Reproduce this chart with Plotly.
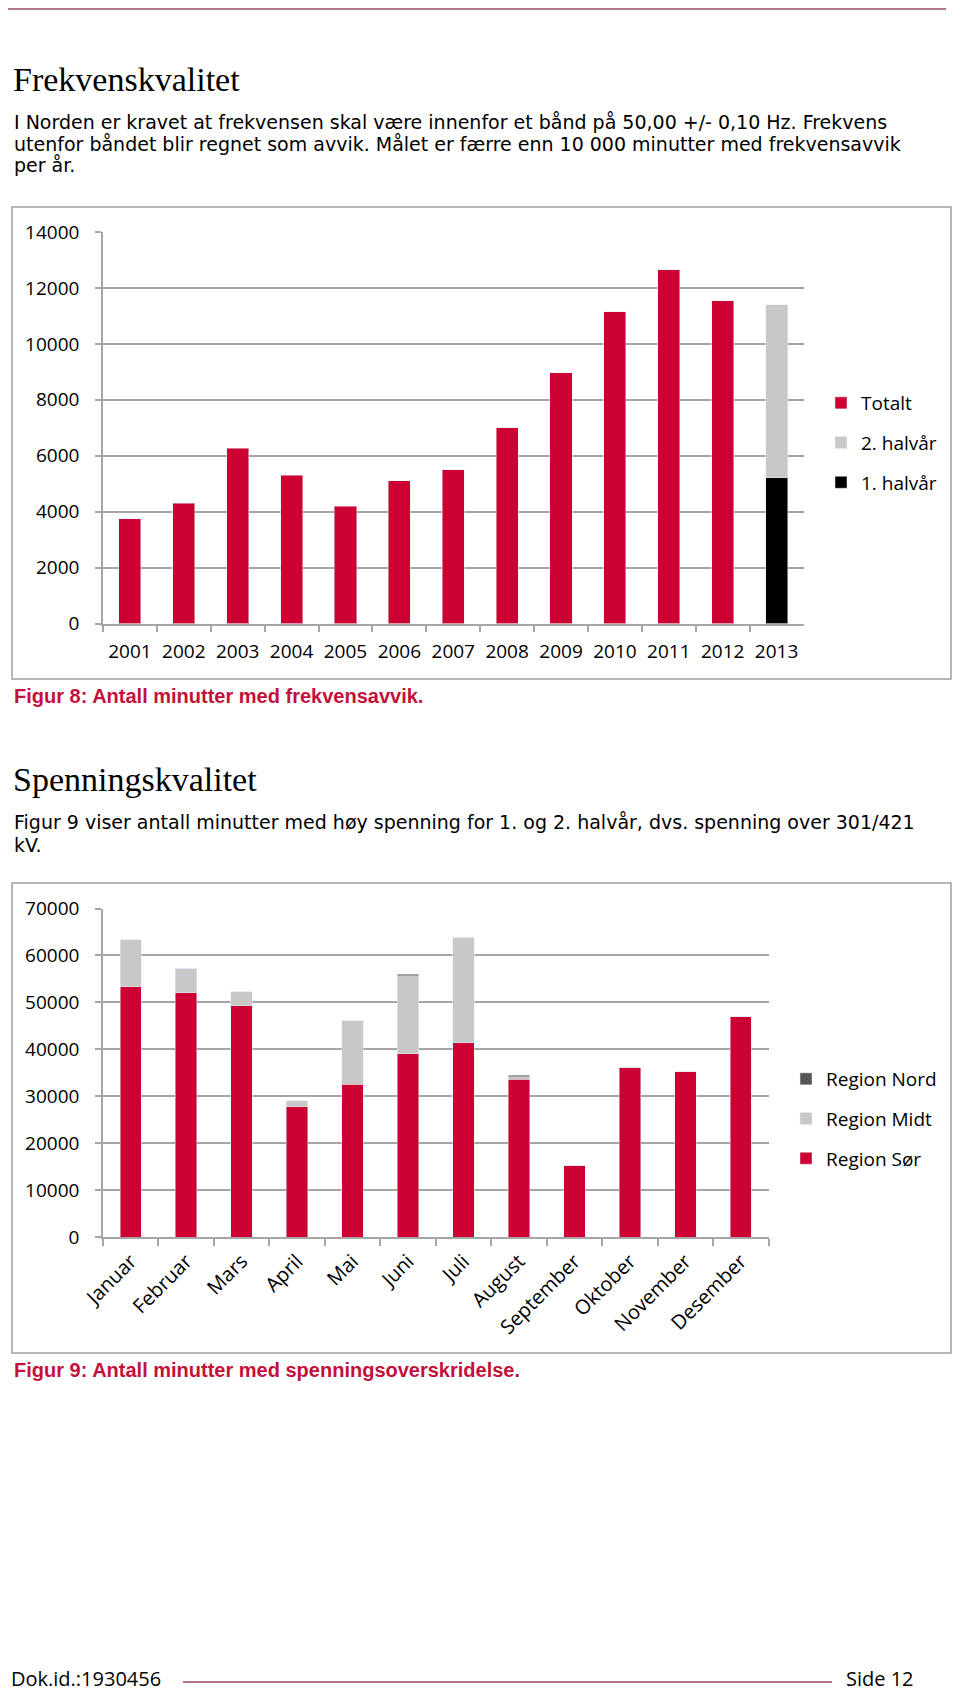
import plotly.graph_objects as go

# ---------------- data ----------------
years = ["2001", "2002", "2003", "2004", "2005", "2006", "2007",
         "2008", "2009", "2010", "2011", "2012", "2013"]
totalt = [3750, 4300, 6270, 5300, 4200, 5100, 5500, 7000, 8960, 11150, 12650, 11550, None]
halvar1 = [None] * 12 + [5220]
halvar2 = [None] * 12 + [6180]

months = ["Januar", "Februar", "Mars", "April", "Mai", "Juni", "Juli",
          "August", "September", "Oktober", "November", "Desember"]
region_sor = [53300, 52000, 49300, 27800, 32500, 39000, 41400, 33600, 15300, 36200, 35200, 46900]
region_midt = [10000, 5300, 3000, 1200, 13600, 16700, 22500, 600, 0, 0, 0, 0]
region_nord = [0, 0, 0, 0, 0, 300, 0, 300, 0, 0, 0, 0]

y1_ticks = [0, 2000, 4000, 6000, 8000, 10000, 12000, 14000]
y2_ticks = [0, 10000, 20000, 30000, 40000, 50000, 60000, 70000]

# ---------------- styles ----------------
# the page has an 8px body margin, so the figure is 944x1686 and placed at (8, 8)
PAGE_W, PAGE_H = 960, 1702
OFF = 8
W, H = PAGE_W - 2 * OFF, PAGE_H - 2 * OFF
RED = "#CC0033"
LIGHT = "#C8C8C8"
DARK = "#555555"
GRID = "#A6A6A6"
CAPRED = "#C4113A"
LINE = "#9B4A62"
CHARTFONT = "Open Sans"


def xp(px):
    """page pixel x -> paper fraction"""
    return (px - OFF) / W


def yp(px):
    """page pixel y (from top) -> paper fraction"""
    return 1 - (px - OFF) / H


fig = go.Figure()

# chart 1 traces (stack order: bottom first)
fig.add_trace(go.Bar(x=years, y=halvar1, name="1. halvår", marker_color="#000000",
                     legendgroup="a", legendrank=3, legend="legend", xaxis="x", yaxis="y"))
fig.add_trace(go.Bar(x=years, y=halvar2, name="2. halvår", marker_color=LIGHT,
                     legendgroup="b", legendrank=2, legend="legend", xaxis="x", yaxis="y"))
fig.add_trace(go.Bar(x=years, y=totalt, name="Totalt", marker_color=RED,
                     legendgroup="c", legendrank=1, legend="legend", xaxis="x", yaxis="y"))

# chart 2 traces
fig.add_trace(go.Bar(x=months, y=region_sor, name="Region Sør", marker_color=RED,
                     legendgroup="d", legendrank=3, legend="legend2", xaxis="x2", yaxis="y2"))
fig.add_trace(go.Bar(x=months, y=region_midt, name="Region Midt", marker_color=LIGHT,
                     legendgroup="e", legendrank=2, legend="legend2", xaxis="x2", yaxis="y2"))
fig.add_trace(go.Bar(x=months, y=region_nord, name="Region Nord", marker_color=DARK,
                     legendgroup="f", legendrank=1, legend="legend2", xaxis="x2", yaxis="y2"))

for tr in fig.data[:3]:
    tr.width = 0.41
for tr in fig.data[3:]:
    tr.width = 0.386

tickfont = dict(family=CHARTFONT, size=19, color="#000000")

common_y = dict(showgrid=True, gridcolor=GRID, gridwidth=1.5, showline=True,
                linecolor=GRID, linewidth=1.5, ticks="outside", ticklen=6,
                tickcolor=GRID, tickwidth=1.5, zeroline=False, tickfont=tickfont,
                tickformat="d", ticklabelstandoff=12, automargin=False, fixedrange=True)
common_x = dict(showgrid=False, showline=True, linecolor=GRID, linewidth=1.5,
                ticks="outside", ticklen=7, tickcolor=GRID, tickwidth=1.5,
                tickson="boundaries", type="category",
                automargin=False, fixedrange=True)

fig.update_layout(
    width=W, height=H,
    margin=dict(l=0, r=0, t=0, b=0, pad=0, autoexpand=False),
    paper_bgcolor="white", plot_bgcolor="white",
    barmode="stack",
    showlegend=True,
    xaxis=dict(domain=[xp(103), xp(803.5)], anchor="y", range=[-0.5, 12.5],
               tickangle=0, ticklabelstandoff=10, tickfont=tickfont, **common_x),
    yaxis=dict(domain=[yp(623.5), yp(232)], anchor="x", range=[0, 14000],
               tickvals=y1_ticks, **common_y),
    xaxis2=dict(domain=[xp(103), xp(768.5)], anchor="y2", range=[-0.5, 11.5],
                tickangle=-45, ticklabelstandoff=3,
                tickfont=dict(family=CHARTFONT, size=20, color="#000000"), **common_x),
    yaxis2=dict(domain=[yp(1237), yp(908.5)], anchor="x2", range=[0, 70000],
                tickvals=y2_ticks, **common_y),
    legend=dict(x=xp(821), xanchor="left", y=yp(443), yanchor="middle",
                traceorder="grouped", tracegroupgap=12,
                font=dict(family=CHARTFONT, size=19, color="#000000"),
                bgcolor="rgba(0,0,0,0)"),
    legend2=dict(x=xp(786), xanchor="left", y=yp(1119), yanchor="middle",
                 traceorder="grouped", tracegroupgap=12,
                 font=dict(family=CHARTFONT, size=19, color="#000000"),
                 bgcolor="rgba(0,0,0,0)"),
)

shapes = [
    dict(type="line", xref="paper", yref="paper", x0=xp(8), x1=xp(946), y0=yp(9), y1=yp(9),
         line=dict(color=LINE, width=1.5)),
    dict(type="rect", xref="paper", yref="paper", x0=xp(12), x1=xp(951), y0=yp(679), y1=yp(207),
         line=dict(color="#A0A0A0", width=1.5), fillcolor="rgba(0,0,0,0)", layer="below"),
    dict(type="rect", xref="paper", yref="paper", x0=xp(12), x1=xp(951), y0=yp(1353), y1=yp(883),
         line=dict(color="#A0A0A0", width=1.5), fillcolor="rgba(0,0,0,0)", layer="below"),
    dict(type="line", xref="paper", yref="paper", x0=xp(183), x1=xp(832), y0=yp(1682), y1=yp(1682),
         line=dict(color=LINE, width=1.5)),
]


def text(t, x, baseline, size, family, color="#000000", bold=False, anchor="left"):
    if bold:
        t = "<b>" + t + "</b>"
    return dict(text=t, xref="paper", yref="paper", x=xp(x), y=yp(baseline - 0.35 * size),
                xanchor=anchor, yanchor="middle", showarrow=False,
                font=dict(family=family, size=size, color=color))


SERIF = "Liberation Serif"
BODY = "DejaVu Sans"
annotations = [
    text("Frekvenskvalitet", 11, 91.7, 34, SERIF),
    text("I Norden er kravet at frekvensen skal være innenfor et bånd på 50,00 +/- 0,10 Hz. Frekvens",
         12, 129, 19, BODY),
    text("utenfor båndet blir regnet som avvik. Målet er færre enn 10 000 minutter med frekvensavvik",
         12, 150.7, 19, BODY),
    text("per år.", 12, 172, 19, BODY),
    text("Figur 8: Antall minutter med frekvensavvik.", 12, 702.7, 20, "Liberation Sans", CAPRED, True),
    text("Spenningskvalitet", 11, 791.7, 34, SERIF),
    text("Figur 9 viser antall minutter med høy spenning for 1. og 2. halvår, dvs. spenning over 301/421",
         12, 828.3, 19, BODY),
    text("kV.", 12, 851.7, 19, BODY),
    text("Figur 9: Antall minutter med spenningsoverskridelse.", 12, 1376.5, 20, "Liberation Sans", CAPRED, True),
    text("Dok.id.:1930456", 9, 1685, 20, CHARTFONT),
    text("Side 12", 916, 1685, 20, CHARTFONT, anchor="right"),
]

fig.update_layout(shapes=shapes, annotations=annotations)

fig.write_html("out.html")
